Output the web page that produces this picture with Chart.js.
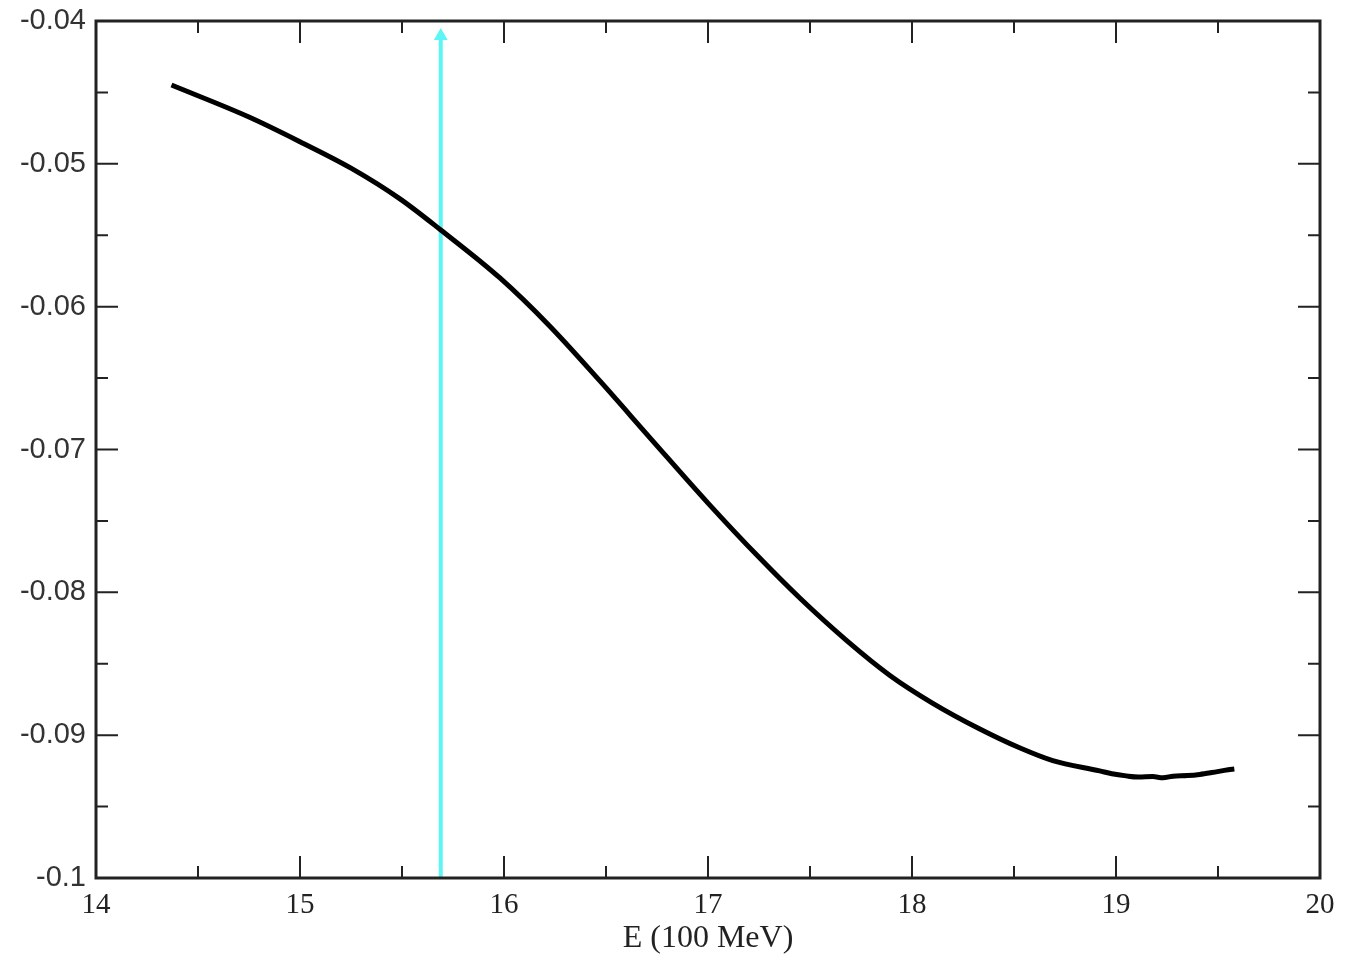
<!DOCTYPE html>
<html>
<head>
<meta charset="utf-8">
<script src="https://cdn.jsdelivr.net/npm/chart.js@4.4.1/dist/chart.umd.min.js"></script>
<style>
  html, body { margin: 0; padding: 0; background: #fff; }
  #wrap { width: 1346px; height: 960px; }
</style>
</head>
<body>
<div id="wrap"><canvas id="chart" width="1346" height="960"></canvas></div>
<script>
// curve
const energy = [14.37, 14.75, 15.0, 15.25, 15.49, 15.69, 15.98, 16.22, 16.47, 16.72, 17.0, 17.25,
  17.45, 17.68, 17.89, 18.1, 18.33, 18.53, 18.69, 18.92, 18.98, 19.05, 19.11, 19.18, 19.23,
  19.28, 19.35, 19.41, 19.47, 19.55, 19.58];
const signal = [-0.04448, -0.04672, -0.04845, -0.0503, -0.05245, -0.05463, -0.05799, -0.0613,
  -0.0652, -0.06925, -0.07375, -0.07755, -0.0804, -0.08338, -0.0858, -0.08775, -0.08955,
  -0.0909, -0.09178, -0.0925, -0.0927, -0.09285, -0.09293, -0.0929, -0.09298, -0.09287,
  -0.09283, -0.09275, -0.09262, -0.09242, -0.09237];

// cyan marker
const markerE = 15.69;
const markerY = [-0.1, -0.04105];

const xTicks = [14, 15, 16, 17, 18, 19, 20];
const yTickLabels = ['-0.1', '-0.09', '-0.08', '-0.07', '-0.06', '-0.05', '-0.04'];

const frame = {
  id: 'frame',
  afterDatasetsDraw(chart) {
    const { ctx, chartArea: a, scales } = chart;
    ctx.save();
    ctx.strokeStyle = '#222';
    ctx.lineWidth = 3;
    ctx.strokeRect(a.left, a.top, a.right - a.left, a.bottom - a.top);
    ctx.lineWidth = 2;
    const big = 22, small = 12;
    const xs = scales.x.ticks.map(t => scales.x.getPixelForValue(t.value));
    const ys = scales.y.ticks.map(t => scales.y.getPixelForValue(t.value));
    ctx.beginPath();
    xs.forEach((px, i) => {
      ctx.moveTo(px, a.bottom); ctx.lineTo(px, a.bottom - big);
      ctx.moveTo(px, a.top); ctx.lineTo(px, a.top + big);
      if (i < xs.length - 1) {
        const m = (px + xs[i + 1]) / 2;
        ctx.moveTo(m, a.bottom); ctx.lineTo(m, a.bottom - small);
        ctx.moveTo(m, a.top); ctx.lineTo(m, a.top + small);
      }
    });
    ys.forEach((py, i) => {
      ctx.moveTo(a.left, py); ctx.lineTo(a.left + big, py);
      ctx.moveTo(a.right, py); ctx.lineTo(a.right - big, py);
      if (i < ys.length - 1) {
        const m = (py + ys[i + 1]) / 2;
        ctx.moveTo(a.left, m); ctx.lineTo(a.left + small, m);
        ctx.moveTo(a.right, m); ctx.lineTo(a.right - small, m);
      }
    });
    ctx.stroke();
    ctx.restore();
  }
};

const ctx = document.getElementById('chart').getContext('2d');
new Chart(ctx, {
  type: 'line',
  data: {
    datasets: [
      {
        data: energy.map((e, i) => ({ x: e, y: signal[i] })),
        borderColor: '#000',
        borderWidth: 5,
        pointRadius: 0,
        cubicInterpolationMode: 'monotone',
        fill: false
      },
      {
        data: markerY.map(v => ({ x: markerE, y: v })),
        borderColor: '#5cf6f6',
        borderWidth: 4,
        pointRadius: [0, 8],
        pointStyle: 'triangle',
        pointBackgroundColor: '#5cf6f6',
        pointBorderWidth: 0,
        tension: 0
      }
    ]
  },
  plugins: [frame],
  options: {
    responsive: false,
    animation: false,
    layout: { padding: { left: 0, right: 26, top: 21, bottom: 0 } },
    plugins: { legend: { display: false }, tooltip: { enabled: false } },
    scales: {
      x: {
        type: 'linear',
        min: 14, max: 20,
        afterFit: s => { s.height = 82; s.paddingLeft = 0; s.paddingRight = 0; },
        afterBuildTicks: s => { s.ticks = xTicks.map(v => ({ value: v })); },
        grid: { display: false, drawTicks: false },
        border: { display: false },
        ticks: {
          padding: 10,
          color: '#222',
          font: { family: '"Liberation Serif", "DejaVu Serif", serif', size: 29 },
          callback: v => String(v)
        },
        title: {
          display: true,
          text: 'E (100 MeV)',
          color: '#222',
          padding: { top: 0, bottom: 2 },
          font: { family: '"Liberation Serif", "DejaVu Serif", serif', size: 32 }
        }
      },
      y: {
        min: -0.1, max: -0.04,
        afterFit: s => { s.width = 96; s.paddingTop = 0; s.paddingBottom = 0; },
        grid: { display: false, drawTicks: false },
        border: { display: false },
        ticks: {
          stepSize: 0.01,
          padding: 10,
          color: '#333',
          font: { family: '"Liberation Sans", Arial, sans-serif', size: 29 },
          callback: (v, i) => yTickLabels[i]
        }
      }
    }
  }
});
</script>
</body>
</html>
